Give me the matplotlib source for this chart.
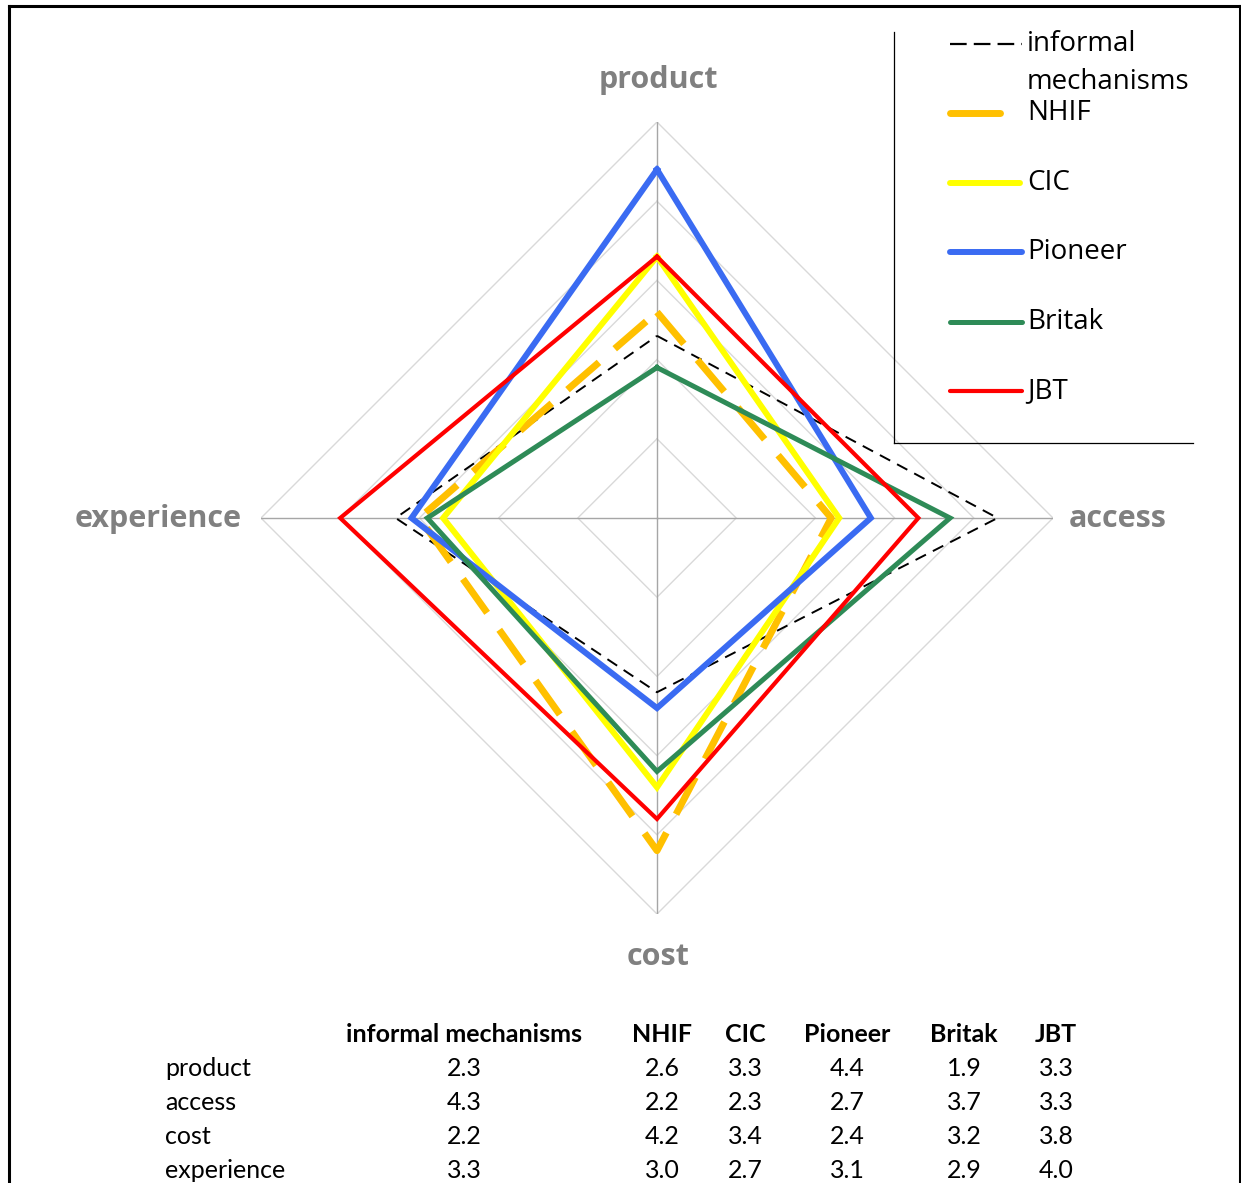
import numpy as np
import matplotlib.pyplot as plt
from matplotlib.lines import Line2D

# radar axes (clockwise from top) and series values
dimensions = ['product', 'access', 'cost', 'experience']
series = ['informal mechanisms', 'NHIF', 'CIC', 'Pioneer', 'Britak', 'JBT']
informal = [2.3, 4.3, 2.2, 3.3]
nhif = [2.6, 2.2, 4.2, 3.0]
cic = [3.3, 2.3, 3.4, 2.7]
pioneer = [4.4, 2.7, 2.4, 3.1]
britak = [1.9, 3.7, 3.2, 2.9]
jbt = [3.3, 3.3, 3.8, 4.0]
grid_levels = [1, 2, 3, 4, 5]

values = [informal, nhif, cic, pioneer, britak, jbt]
colors = ['black', '#FFC000', '#FFFF00', '#3A6BF2', '#2E8B57', '#FF0000']
widths = [1.4, 5.0, 4.3, 4.3, 3.6, 3.0]
dashes = [(6, 4), (6, 3), None, None, None, None]

plt.rcParams['font.family'] = ['Lato', 'DejaVu Sans']

W, H = 1241, 1183
fig = plt.figure(figsize=(W / 100, H / 100), dpi=100)

# radar area: data range [-5, 5] -> pixels 261..1053 (x) and 122..914 (y)
ax = fig.add_axes([261 / W, 1 - 914 / H, 792 / W, 792 / H])
ax.set_xlim(-5, 5)
ax.set_ylim(-5, 5)
ax.axis('off')

angles = np.deg2rad([90, 0, -90, 180])
ca, sa = np.cos(angles), np.sin(angles)

for lv in grid_levels:
    gx = np.append(lv * ca, lv * ca[0])
    gy = np.append(lv * sa, lv * sa[0])
    ax.plot(gx, gy, color='#D9D9D9', lw=1.0, zorder=1)
for c, s in zip(ca, sa):
    ax.plot([0, 5 * c], [0, 5 * s], color='#A6A6A6', lw=1.0, zorder=1)

for vals, col, lw, ds in zip(values, colors, widths, dashes):
    v = np.array(vals + vals[:1])
    x = v * np.append(ca, ca[0])
    y = v * np.append(sa, sa[0])
    line, = ax.plot(x, y, color=col, lw=lw, zorder=3, solid_joinstyle='miter')
    if ds is not None:
        line.set_dashes(ds)

label_pos = [(658, 80), (1118, 519), (658, 957), (158, 519)]
for name, (px, py) in zip(dimensions, label_pos):
    fig.text(px / W, 1 - py / H, name, ha='center', va='center',
             fontsize=22, fontweight='bold', color='#808080', family='Open Sans')

# outer frame
for xs, ys in [([9, 9], [1183, 6]), ([9, 1240], [6, 6]), ([1240, 1240], [6, 1183])]:
    fig.add_artist(Line2D([x / W for x in xs], [1 - y / H for y in ys],
                          color='black', lw=2.2))

# legend box (left and bottom edges only)
fig.add_artist(Line2D([894 / W, 894 / W], [1 - 32 / H, 1 - 443 / H], color='black', lw=0.9))
fig.add_artist(Line2D([894 / W, 1193 / W], [1 - 443 / H, 1 - 443 / H], color='black', lw=0.9))

leg_y = [44, 113, 183, 252, 322, 391]
leg_x1 = [1022, 1000, 1020, 1022, 1022, 1022]
leg_labels = ['informal', 'NHIF', 'CIC', 'Pioneer', 'Britak', 'JBT']
for i, (ly, lx1, col, lw) in enumerate(zip(leg_y, leg_x1, colors, widths)):
    ln = Line2D([950 / W, lx1 / W], [1 - ly / H, 1 - ly / H], color=col, lw=lw,
                solid_capstyle='round')
    if i == 0:
        ln.set_linewidth(1.6)
        ln.set_dashes((7.5, 3.2))
    fig.add_artist(ln)
    fig.text(1027 / W, 1 - ly / H, leg_labels[i], ha='left', va='center',
             fontsize=20, color='black', family='Open Sans')
fig.text(1027 / W, 1 - 82 / H, 'mechanisms', ha='left', va='center',
         fontsize=20, color='black', family='Open Sans')

# data table
col_x = [464, 662, 745, 847, 964, 1056]
for name, cx in zip(series, col_x):
    fig.text(cx / W, 1 - 1035 / H, name, ha='center', va='center',
             fontsize=18, fontweight='bold')
row_y = [1069, 1103, 1137, 1171]
for r, (dim, ry) in enumerate(zip(dimensions, row_y)):
    fig.text(165 / W, 1 - ry / H, dim, ha='left', va='center', fontsize=18)
    for vals, cx in zip(values, col_x):
        fig.text(cx / W, 1 - ry / H, f'{vals[r]:.1f}', ha='center', va='center',
                 fontsize=18)

fig.savefig('out.png', dpi=100)
